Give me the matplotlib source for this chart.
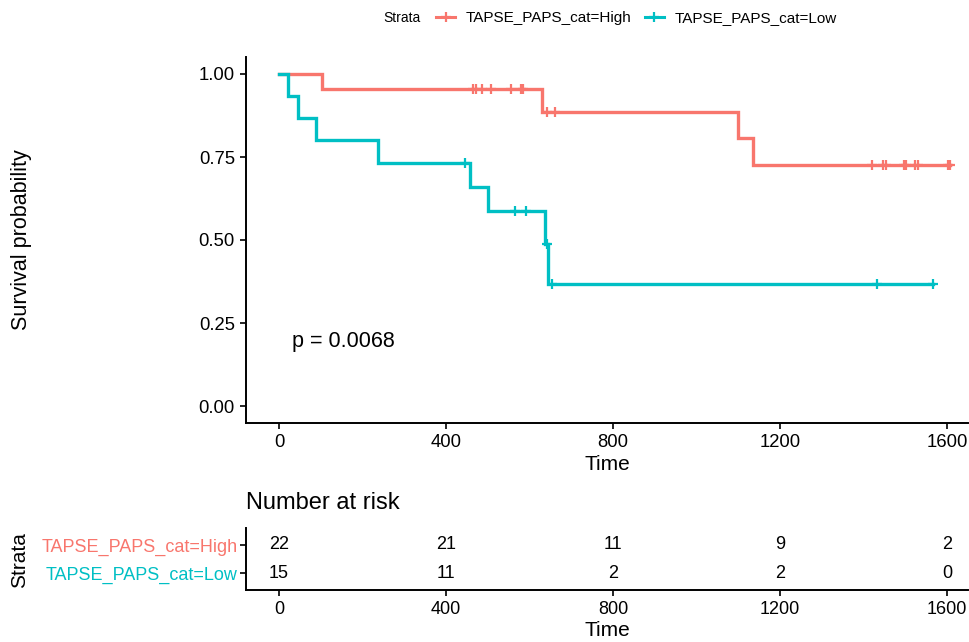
import numpy as np
import matplotlib
matplotlib.use('Agg')
import matplotlib.pyplot as plt
from matplotlib.lines import Line2D

plt.rcParams['font.family'] = ['Liberation Sans', 'DejaVu Sans']

strata = ['TAPSE_PAPS_cat=High', 'TAPSE_PAPS_cat=Low']
colors = ['#F8766D', '#00BFC4']

high_time = [103, 465, 472, 486, 508, 556, 580, 585, 630, 642, 661, 1099, 1136,
             1421, 1447, 1454, 1497, 1502, 1524, 1530, 1603, 1608]
high_event = [1, 0, 0, 0, 0, 0, 0, 0, 1, 0, 0, 1, 1,
              0, 0, 0, 0, 0, 0, 0, 0, 0]
low_time = [22, 46, 89, 238, 446, 458, 501, 565, 592, 637, 641, 645, 654, 1433, 1567]
low_event = [1, 1, 1, 1, 0, 1, 1, 0, 0, 1, 0, 1, 0, 0, 0]

risk_times = [0, 400, 800, 1200, 1600]
risk_high = [22, 21, 11, 9, 2]
risk_low = [15, 11, 2, 2, 0]
x_ticks = [0, 400, 800, 1200, 1600]
y_ticks = [0.0, 0.25, 0.5, 0.75, 1.0]
p_text = 'p = 0.0068'


def km(times, events):
    t = np.asarray(times, float)
    e = np.asarray(events, int)
    n = len(t)
    s = 1.0
    xs, ys = [0.0], [1.0]
    cx, cy = [], []
    for ut in np.unique(t):
        m = t == ut
        d = e[m].sum()
        c = m.sum()
        if d > 0:
            s *= (1 - d / n)
            xs.append(ut)
            ys.append(s)
        nc = int((m & (e == 0)).sum())
        for _ in range(nc):
            cx.append(ut)
            cy.append(s)
        n -= c
    xs.append(t.max())
    ys.append(s)
    return xs, ys, cx, cy


W, H = 970, 642
fig = plt.figure(figsize=(W / 100, H / 100), dpi=100)

def px_axes(l, t, r, b):
    return fig.add_axes([l / W, 1 - b / H, (r - l) / W, (b - t) / H])

ax = px_axes(246, 57.4, 968, 422.6)
xmin, xmax = -79, 1650
ax.set_xlim(xmin, xmax)
ax.set_ylim(-0.05, 1.05)

for (tt, ee), col in zip([(high_time, high_event), (low_time, low_event)], colors):
    xs, ys, cx, cy = km(tt, ee)
    ax.step(xs, ys, where='post', color=col, lw=2.4, solid_joinstyle='miter')
    ax.plot(cx, cy, ls='none', marker='+', ms=7, mew=1.6, color=col)

ax.text(30, 0.193, p_text, fontsize=15.5, va='center', ha='left')

for a in ['top', 'right']:
    ax.spines[a].set_visible(False)
ax.spines['left'].set_linewidth(1.4)
ax.spines['bottom'].set_linewidth(1.4)
ax.set_xticks(x_ticks)
ax.set_yticks(y_ticks)
ax.set_yticklabels([f'{v:.2f}' for v in y_ticks])
ax.tick_params(labelsize=13.3, length=4, width=1.2, pad=4, colors='black')
ax.set_xlabel('Time', fontsize=15, labelpad=3)
fig.text(22 / W, 1 - 240 / H, 'Survival probability', rotation=90, fontsize=15.5,
         va='center', ha='center')

# legend
fig.text(383 / W, 1 - 18 / H, 'Strata', fontsize=10, va='center', ha='left')
handles = [Line2D([0], [0], color=c, lw=2.2, marker='+', ms=7, mew=1.6) for c in colors]
fig.legend(handles, strata, loc='center left', bbox_to_anchor=(436 / W, 1 - 18 / H),
           ncol=2, frameon=False, fontsize=11.0, handlelength=1.25, handletextpad=0.7,
           columnspacing=0.85, borderaxespad=0, borderpad=0)

# risk table
rt = px_axes(246, 528, 968, 590)
rt.set_xlim(xmin, xmax)
rt.set_ylim(1.6, -0.6)
for i, vals in enumerate([risk_high, risk_low]):
    for x, v in zip(risk_times, vals):
        rt.text(x, i, str(v), ha='center', va='center', fontsize=13)
rt.set_yticks([0, 1])
rt.set_yticklabels(strata)
for lab, col in zip(rt.get_yticklabels(), colors):
    lab.set_color(col)
rt.set_xticks(x_ticks)
for a in ['top', 'right']:
    rt.spines[a].set_visible(False)
rt.spines['left'].set_linewidth(1.4)
rt.spines['bottom'].set_linewidth(1.4)
rt.tick_params(labelsize=13, length=4, width=1.2, pad=4)
rt.tick_params(axis='y', pad=2)
rt.set_xlabel('Time', fontsize=15, labelpad=2)
fig.text(246 / W, 1 - 503 / H, 'Number at risk', fontsize=17, va='center', ha='left')
fig.text(20 / W, 1 - 560 / H, 'Strata', rotation=90, fontsize=15, va='center', ha='center')

fig.savefig('out.png', dpi=100)
